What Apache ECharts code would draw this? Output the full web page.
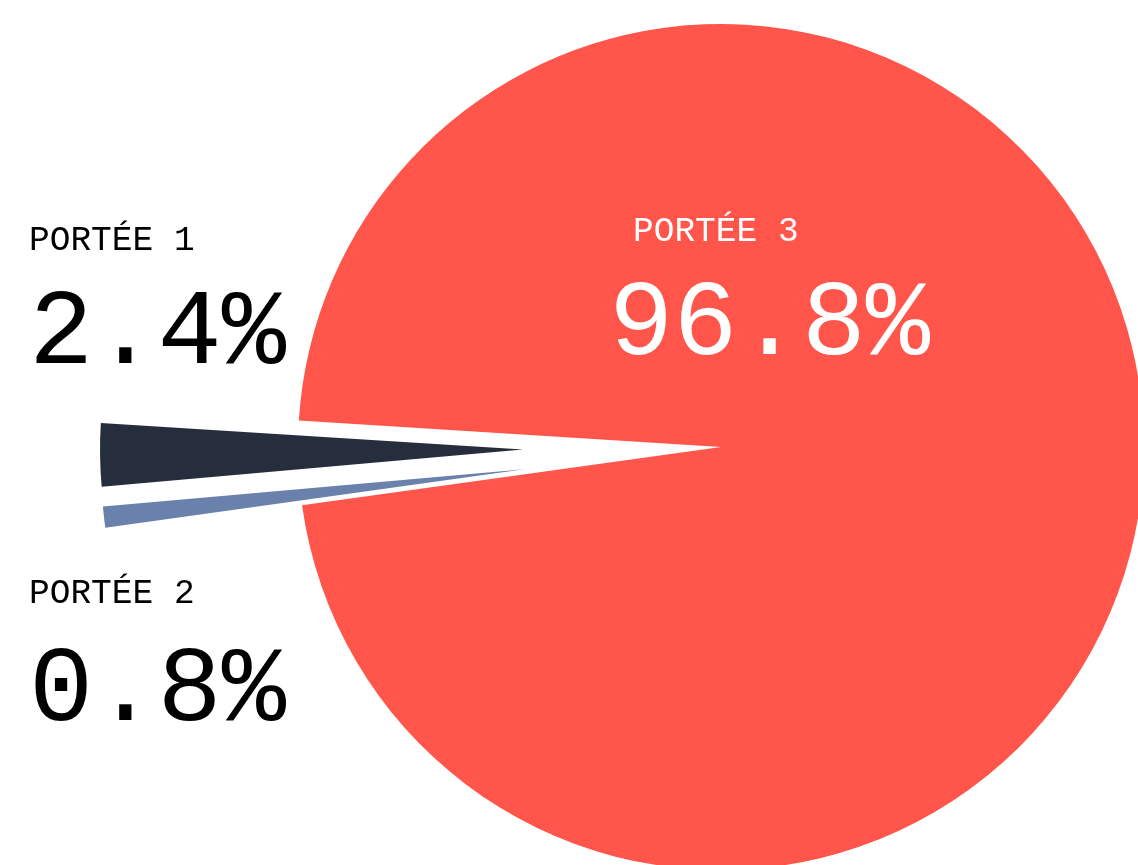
<!DOCTYPE html>
<html><head><meta charset="utf-8">
<script src="https://cdn.jsdelivr.net/npm/echarts@6/dist/echarts.min.js"></script>
<style>html,body{margin:0;padding:0;background:#fff}#c{width:1138px;height:865px}</style>
</head><body><div id="c"></div>
<script>
const categories = ['PORTÉE 1', 'PORTÉE 2', 'PORTÉE 3'];
const values = [2.4, 0.8, 96.8];
const colors = ['#262d3c', '#6a82ab', '#ff554a'];
const exploded = [true, true, false];

const chart = echarts.init(document.getElementById('c'));
const FONT = '"Liberation Mono", monospace';
const total = values.reduce((a, b) => a + b, 0);
const pct = values.map(v => (v / total * 100).toFixed(1) + '%');

// label layout (positions only)
const labelPos = [
  {x: 29, xv: 29, yName: 241, yVal: 335, color: '#000'},
  {x: 29, xv: 29, yName: 594, yVal: 692, color: '#000'},
  {x: 633, xv: 609, yName: 232, yVal: 326, color: '#fff'}
];
const graphics = [];
categories.forEach((c, i) => {
  const p = labelPos[i];
  graphics.push({type: 'text', x: p.x, y: p.yName, z: 100,
    style: {text: c, font: '34.5px ' + FONT, fill: p.color, textVerticalAlign: 'middle'}});
  graphics.push({type: 'text', x: p.xv, y: p.yVal, z: 100,
    style: {text: pct[i], font: '107px ' + FONT, fill: p.color, textVerticalAlign: 'middle'}});
});

chart.setOption({
  animation: false,
  graphic: graphics,
  series: [{
    type: 'pie',
    center: [721, 447],
    radius: [0, 423],
    startAngle: 176.4,
    clockwise: false,
    selectedMode: 'multiple',
    selectedOffset: 198,
    label: {show: false},
    labelLine: {show: false},
    emphasis: {disabled: true},
    itemStyle: {borderWidth: 0},
    data: categories.map((c, i) => ({name: c, value: values[i], selected: exploded[i], itemStyle: {color: colors[i]}}))
  }]
});
</script></body></html>
